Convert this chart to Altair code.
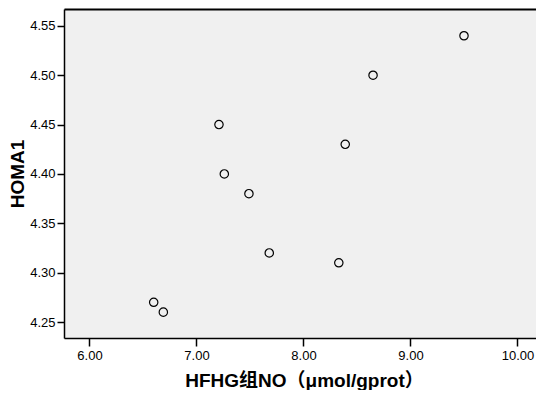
import altair as alt
import pandas as pd

no_values = [6.60, 6.69, 7.21, 7.26, 7.49, 7.68, 8.33, 8.39, 8.65, 9.50]
homa1 = [4.27, 4.26, 4.45, 4.40, 4.38, 4.32, 4.31, 4.43, 4.50, 4.54]
x_ticks = [6.0, 7.0, 8.0, 9.0, 10.0]
y_ticks = [4.25, 4.30, 4.35, 4.40, 4.45, 4.50, 4.55]

df = pd.DataFrame({"no": no_values, "homa": homa1})

FONT = "Arial, Liberation Sans, Noto Sans CJK SC"
x_scale = alt.Scale(domain=[5.7617, 10.1729], nice=False, zero=False)
y_scale = alt.Scale(domain=[4.2338, 4.5671], nice=False, zero=False)

points = alt.Chart(df).mark_point(
    shape="circle", filled=False, color="black", strokeWidth=1.2, size=70, opacity=1
).encode(
    x=alt.X("no:Q", scale=x_scale,
            axis=alt.Axis(values=x_ticks, format=".2f",
                          title="HFHG组NO（μmol/gprot）",
                          titleX=240, titleAlign="center",
                          titleY=48, titleBaseline="alphabetic",
                          titleFontSize=19, labelPadding=3)),
    y=alt.Y("homa:Q", scale=y_scale,
            axis=alt.Axis(values=y_ticks, format=".2f", title="HOMA1",
                          titleX=-46.5, titleBaseline="middle",
                          titleFontSize=19, labelPadding=2, tickSize=7)),
)

top = alt.Chart(df).mark_point(opacity=0).encode(
    x=alt.X("no:Q", scale=x_scale,
            axis=alt.Axis(orient="top", ticks=False, labels=False, title=None,
                          domainWidth=2)),
    y=alt.Y("homa:Q", scale=y_scale),
)

chart = alt.layer(points, top).resolve_axis(x="independent").properties(
    width=472, height=329,
    autosize=alt.AutoSizeParams(type="none"),
    padding={"left": 56, "top": 1, "right": 0, "bottom": 52},
).configure_view(
    fill="#F0F0F0", stroke=None
).configure_axis(
    domainColor="black", domainWidth=1.5, tickColor="black", tickWidth=1.5,
    tickSize=8, grid=False, labelFont=FONT, labelFontSize=13, labelColor="black",
    titleFont=FONT, titleFontSize=17, titleFontWeight="bold", titleColor="black",
)

chart.save("out.html", embed_options={"renderer": "svg", "actions": False})
